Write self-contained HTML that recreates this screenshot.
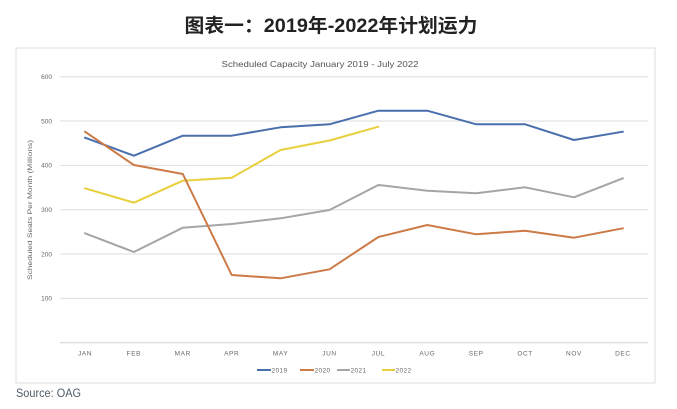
<!DOCTYPE html>
<html>
<head>
<meta charset="utf-8">
<style>
html,body{margin:0;padding:0;background:#fff;}
body{width:677px;height:409px;overflow:hidden;}
svg{display:block;}
</style>
</head>
<body>
<svg width="677" height="409" viewBox="0 0 677 409" xmlns="http://www.w3.org/2000/svg">
  <rect x="0" y="0" width="677" height="409" fill="#fff"/>
  <text x="331" y="32" text-anchor="middle" font-family="'Liberation Sans','Noto Sans CJK SC',sans-serif" font-weight="bold" font-size="19" fill="#222" textLength="293" lengthAdjust="spacingAndGlyphs">图表一：2019年-2022年计划运力</text>
  <!-- frame -->
  <rect x="16" y="48" width="639" height="335" fill="#fff" stroke="#dcdcdc" stroke-width="1"/>
  <text x="320" y="67" text-anchor="middle" font-family="'Liberation Sans',sans-serif" font-size="8" fill="#555" textLength="197" lengthAdjust="spacingAndGlyphs">Scheduled Capacity January 2019  - July 2022</text>
  <!-- gridlines -->
  <g stroke="#dedede" stroke-width="1">
    <line x1="60" y1="76.7" x2="648" y2="76.7"/>
    <line x1="60" y1="121" x2="648" y2="121"/>
    <line x1="60" y1="165.4" x2="648" y2="165.4"/>
    <line x1="60" y1="209.7" x2="648" y2="209.7"/>
    <line x1="60" y1="254" x2="648" y2="254"/>
    <line x1="60" y1="298.4" x2="648" y2="298.4"/>
  </g>
  <line x1="60" y1="342.7" x2="648" y2="342.7" stroke="#d0d0d0" stroke-width="1"/>
  <!-- y ticks -->
  <g font-family="'Liberation Sans',sans-serif" font-size="6.5" fill="#666" text-anchor="end">
    <text x="52" y="79">600</text>
    <text x="52" y="123.3">500</text>
    <text x="52" y="167.7">400</text>
    <text x="52" y="212">300</text>
    <text x="52" y="256.3">200</text>
    <text x="52" y="300.7">100</text>
  </g>
  <text transform="translate(32,210) rotate(-90)" text-anchor="middle" font-family="'Liberation Sans',sans-serif" font-size="6.5" fill="#666" textLength="140" lengthAdjust="spacingAndGlyphs">Scheduled Seats Per Month (Millions)</text>
  <!-- x labels -->
  <g font-family="'Liberation Sans',sans-serif" font-size="6.5" fill="#666" text-anchor="middle" letter-spacing="0.6">
    <text x="85" y="355.5">JAN</text>
    <text x="133.9" y="355.5">FEB</text>
    <text x="182.8" y="355.5">MAR</text>
    <text x="231.7" y="355.5">APR</text>
    <text x="280.6" y="355.5">MAY</text>
    <text x="329.5" y="355.5">JUN</text>
    <text x="378.4" y="355.5">JUL</text>
    <text x="427.3" y="355.5">AUG</text>
    <text x="476.2" y="355.5">SEP</text>
    <text x="525.1" y="355.5">OCT</text>
    <text x="574" y="355.5">NOV</text>
    <text x="622.9" y="355.5">DEC</text>
  </g>
  <!-- series -->
  <g fill="none" stroke-width="2" stroke-linejoin="round" stroke-linecap="round">
    <polyline stroke="#a5a5a5" points="85,233.3 133.9,252 182.8,227.7 231.7,224 280.6,218.3 329.5,210 378.4,185 427.3,190.7 476.2,193.3 525.1,187.3 574,197.3 622.9,178.3"/>
    <polyline stroke="#e9cf3c" points="85,188.3 133.9,202.7 182.8,180.7 231.7,177.7 280.6,150 329.5,140.5 378.4,126.7"/>
    <polyline stroke="#4a6fad" points="85,137.7 133.9,155.7 182.8,135.7 231.7,135.7 280.6,127.3 329.5,124.3 378.4,110.7 427.3,110.7 476.2,124.3 525.1,124.3 574,140 622.9,131.7"/>
    <polyline stroke="#cc7a46" points="85,131.7 133.9,165 182.8,174 231.7,275 280.6,278.3 329.5,269.3 378.4,237 427.3,225 476.2,234.3 525.1,230.7 574,237.7 622.9,228.3"/>
  </g>
  <!-- legend -->
  <g stroke-width="2">
    <line x1="257" y1="370" x2="271" y2="370" stroke="#4a6fad"/>
    <line x1="300" y1="370" x2="314" y2="370" stroke="#cc7a46"/>
    <line x1="337" y1="370" x2="350" y2="370" stroke="#a5a5a5"/>
    <line x1="382" y1="370" x2="395" y2="370" stroke="#e9cf3c"/>
  </g>
  <g font-family="'Liberation Sans',sans-serif" font-size="6.5" fill="#666" letter-spacing="0.4">
    <text x="271.5" y="372.3">2019</text>
    <text x="314.5" y="372.3">2020</text>
    <text x="350.5" y="372.3">2021</text>
    <text x="395.5" y="372.3">2022</text>
  </g>
  <text x="16" y="397" font-family="'Liberation Sans',sans-serif" font-size="11.5" fill="#4f5b66" textLength="65" lengthAdjust="spacingAndGlyphs">Source: OAG</text>
</svg>
</body>
</html>
